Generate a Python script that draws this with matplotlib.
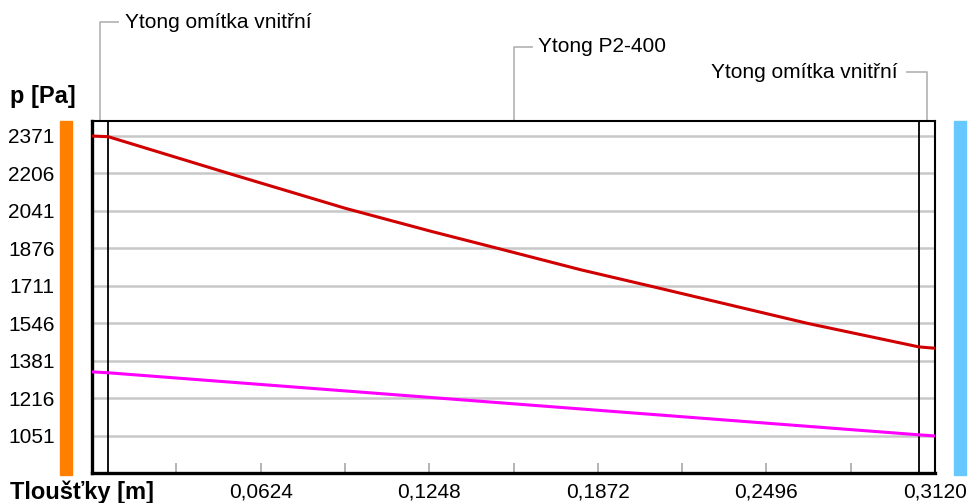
import numpy as np
import matplotlib
matplotlib.use('Agg')
import matplotlib.pyplot as plt
from matplotlib.patches import Rectangle
from matplotlib.transforms import blended_transform_factory

# Data ------------------------------------------
LAYER_NAMES = ['Ytong omítka vnitřní', 'Ytong P2-400', 'Ytong omítka vnitřní']
LAYER_THICKNESS = [0.006, 0.300, 0.006]  # m
X_POS = [0, 0.006, 0.051, 0.094, 0.126, 0.151, 0.181, 0.209, 0.265, 0.306, 0.312]
P_SAT = [2371, 2368, 2205, 2052, 1950, 1874, 1782, 1704, 1546, 1443, 1437]  # red
X_PART = [0, 0.006, 0.306, 0.312]
P_PART = [1333, 1329, 1056, 1051]  # magenta
Y_TICKS = [1051, 1216, 1381, 1546, 1711, 1876, 2041, 2206, 2371]
X_TICKS = [0, 0.0624, 0.1248, 0.1872, 0.2496, 0.3120]
X_MINOR = [0.0312, 0.0936, 0.1560, 0.2184, 0.2808]
# -----------------------------------------------
REG = ['Liberation Sans', 'DejaVu Sans']
FS = 15
FSB = 17

W, H = 968, 503
fig = plt.figure(figsize=(W/100, H/100), dpi=100)
ax = fig.add_axes([92/W, 30/H, 843/W, 352/H])
total = sum(LAYER_THICKNESS)
ax.set_xlim(0, total)
ax.set_ylim(888, 2437)

ax.plot(X_PART, P_PART, color='#ff00ff', lw=2.2, zorder=4)
ax.plot(X_POS, P_SAT, color='#d00000', lw=2.2, zorder=5)

edges = np.cumsum(LAYER_THICKNESS)
for e in edges[:-1]:
	ax.axvline(e, color='black', lw=1.3, zorder=3)

ax.set_yticks(Y_TICKS)
ax.set_yticklabels([str(v) for v in Y_TICKS], family=REG, fontsize=FS)
ax.yaxis.grid(True, color='#c8c8c8', lw=1.8)
ax.set_axisbelow(True)
ax.tick_params(axis='y', length=0, pad=27)

ax.set_xticks(X_TICKS)
ax.set_xticklabels([''] + [('%.4f' % v).replace('.', ',') for v in X_TICKS[1:]], family=REG, fontsize=FS)
ax.set_xticks(X_MINOR, minor=True)
ax.tick_params(axis='x', which='both', direction='in', length=7, width=1.2, color='#a8a8a8', pad=7)

ax.spines['left'].set_linewidth(2.4)
ax.spines['bottom'].set_linewidth(2.4)
ax.spines['top'].set_linewidth(1.5)
ax.spines['right'].set_linewidth(1.5)

# side bars -------------------------------------
ax.add_patch(Rectangle((-32/843, -2/352), 12/843, 354/352, transform=ax.transAxes, color='#ff8000', clip_on=False))
ax.add_patch(Rectangle((862/843, -2/352), 12/843, 354/352, transform=ax.transAxes, color='#66c8ff', clip_on=False))

# layer labels with leaders ---------------------
tr = blended_transform_factory(ax.transData, ax.transAxes)
px = total/843
centers = edges - np.array(LAYER_THICKNESS)/2
label_y = [22, 47, 72]  # pixels from top of figure
for name, c, yp in zip(LAYER_NAMES, centers, label_y):
	ya = (473 - yp)/352
	if c > total*0.8:
		hx, tx, ha = c - 20*px, c - 29*px, 'right'
	else:
		hx, tx, ha = c + 18*px, c + 25*px, 'left'
	ax.plot([c, c, hx], [1, ya, ya], color='#b8b8b8', lw=1.3, transform=tr, clip_on=False)
	ax.text(tx, ya, name, transform=tr, ha=ha, va='center', family=REG, fontsize=FS)

fig.text(10/W, 1 - 96/H, 'p [Pa]', family=REG, fontsize=FSB, fontweight='bold', va='center')
fig.text(10/W, 1 - 492/H, 'Tloušťky [m]', family=REG, fontsize=FSB, fontweight='bold', va='center')

fig.savefig('out.png', dpi=100)
